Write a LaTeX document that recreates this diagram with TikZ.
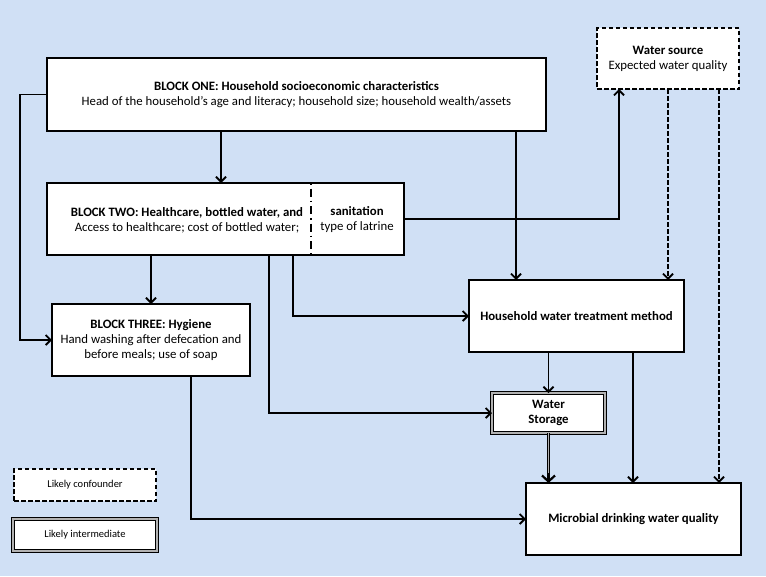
\documentclass[tikz,border=0pt]{standalone}
\usepackage{fontspec}
\setmainfont{Carlito}
\usetikzlibrary{arrows.meta}
\definecolor{bgblue}{RGB}{208,224,245}
\begin{document}
\begin{tikzpicture}[x=1pt,y=-1pt,
  box/.style={draw=black, fill=white, line width=1.8pt, rectangle, inner sep=2pt, outer sep=0pt, align=center, font=\fontsize{12.8}{15}\selectfont},
  dbox/.style={box, dash pattern=on 4.5pt off 2.5pt, line width=1.6pt},
  ibox/.style={box, draw=black, line width=0.9pt, double=gray!60, double distance=1.4pt},
  txt/.style={inner sep=0pt, outer sep=0pt, align=center, font=\fontsize{12.8}{15}\selectfont},
  arr/.style={line width=1.8pt, -{Straight Barb[length=5pt,width=10pt,line width=1.8pt]}},
  darr/.style={arr, dash pattern=on 4.5pt off 2.5pt},
  dblline/.style={draw=black, line width=0.9pt, double=gray!60, double distance=1.4pt},
  bigarr/.style={line width=2.2pt, -{Straight Barb[length=6pt,width=13pt,line width=2.2pt]}}
]
\fill[bgblue] (0,0) rectangle (766,576);
\useasboundingbox (0,0) rectangle (766,576);

% main nodes
\node[box, minimum width=499pt, minimum height=73pt] (b1) at (296.5,94.5)
  {\textbf{BLOCK ONE: Household socioeconomic characteristics}\\Head of the household’s age and literacy; household size; household wealth/assets};
\node[dbox, minimum width=142pt, minimum height=61pt] (ws) at (668,58.5)
  {\textbf{Water source}\\Expected water quality};
\node[box, minimum width=357pt, minimum height=72pt] (b2) at (225.5,219) {};
\node[txt] (b2l) at (187,220) {\textbf{BLOCK TWO: Healthcare, bottled water, and}\\Access to healthcare; cost of bottled water;};
\node[txt] (b2r) at (357,220) {\textbf{sanitation}\\type of latrine};
\coordinate (div) at (311,219);
\draw[line width=1.8pt, dash pattern=on 1.5pt off 4pt on 8pt off 4pt] (div |- b2.north) -- (div |- b2.south);
\node[box, minimum width=198pt, minimum height=72pt] (b3) at (151,340)
  {\textbf{BLOCK THREE: Hygiene}\\Hand washing after defecation and\\before meals; use of soap};
\node[box, minimum width=215pt, minimum height=72pt] (hwt) at (576.5,316)
  {\textbf{Household water treatment method}};
\node[ibox, minimum width=113pt, minimum height=40pt] (st) at (548.5,413)
  {\textbf{Water}\\\textbf{Storage}};
\node[box, minimum width=215pt, minimum height=72pt] (mq) at (633.5,519)
  {\textbf{Microbial drinking water quality}};

% legend
\node[dbox, minimum width=142pt, minimum height=32pt, font=\fontsize{10.5}{12}\selectfont] (lc) at (85,485) {Likely confounder};
\node[ibox, minimum width=144pt, minimum height=32pt, font=\fontsize{10.5}{12}\selectfont] (li) at (85,535) {Likely intermediate};

% x positions of connectors
\coordinate (lx) at (20,0);
\coordinate (c1) at (221,0);
\coordinate (c3) at (516,0);
\coordinate (c4) at (619,0);
\coordinate (c6) at (269,0);
\coordinate (c7) at (293,0);
\coordinate (c8) at (668,0);
\coordinate (c9) at (719,0);
\coordinate (c11) at (633,0);
\coordinate (c13) at (191,0);

% connectors
\draw[arr] (b1.south -| c1) -- (b2.north -| c1);
\draw[arr] (b1.west) -- (b1.west -| lx) |- (b3.west);
\draw[arr] (b1.south -| c3) -- (hwt.north -| c3);
\draw[arr] (b2.east) -| (ws.south -| c4);
\draw[arr] (b3.north |- b2.south) -- (b3.north);
\draw[arr] (b2.south -| c6) |- (st.west);
\draw[arr] (b2.south -| c7) |- (hwt.west);
\draw[darr] (ws.south -| c8) -- (hwt.north -| c8);
\draw[darr] (ws.south -| c9) -- (mq.north -| c9);
\draw[arr] (hwt.south -| st.north) -- (st.north);
\draw[arr] (hwt.south -| c11) -- (mq.north -| c11);
\draw[dblline] (st.south) -- ([yshift=8pt]mq.north -| st.south);
\draw[bigarr] ([yshift=10pt]mq.north -| st.south) -- (mq.north -| st.south);
\draw[arr] (b3.south -| c13) |- (mq.west);
\end{tikzpicture}
\end{document}
